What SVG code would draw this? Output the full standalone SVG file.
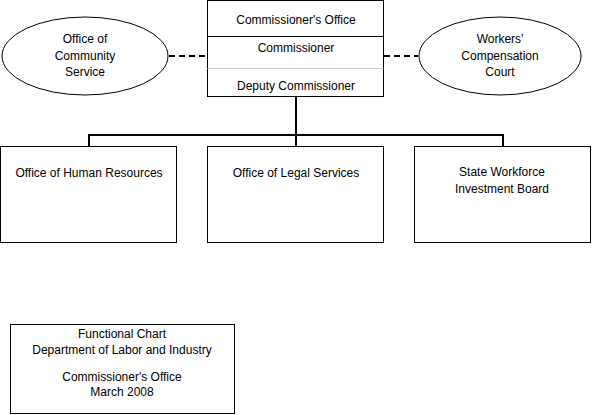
<svg xmlns="http://www.w3.org/2000/svg" width="592" height="415" viewBox="0 0 592 415">
<style>
.b{fill:#fff;stroke:#000;stroke-width:1}
.t{font-family:"Liberation Sans",Arial,sans-serif;font-size:12px;fill:#000;text-anchor:middle}
.c{stroke:#000;stroke-width:2;fill:none}
.d{stroke:#000;stroke-width:2;stroke-dasharray:6,4;fill:none}
</style>
<rect width="592" height="415" fill="#fff"/>
<g id="connectors">
<path class="c" d="M296 97V135M89 135H503M89 134V146M296 134V146M503 134V146"/>
<path class="d" d="M169 56H207M384 56H418"/>
</g>
<g id="commissioner">
<rect class="b" x="207.5" y="0.5" width="176" height="96"/>
<line x1="207.5" y1="36.5" x2="383.5" y2="36.5" stroke="#000"/>
<line x1="207.5" y1="68.5" x2="383.5" y2="68.5" stroke="#ccc"/>
<text class="t" x="296" y="24">Commissioner's Office</text>
<text class="t" x="296" y="52">Commissioner</text>
<text class="t" x="296" y="90">Deputy Commissioner</text>
</g>
<g id="community">
<ellipse class="b" cx="85" cy="56" rx="83" ry="39"/>
<text class="t" x="85" y="43">Office of</text>
<text class="t" x="85" y="60">Community</text>
<text class="t" x="85" y="76">Service</text>
</g>
<g id="court">
<ellipse class="b" cx="500" cy="56" rx="81" ry="39"/>
<text class="t" x="500" y="43">Workers'</text>
<text class="t" x="500" y="60">Compensation</text>
<text class="t" x="500" y="76">Court</text>
</g>
<g id="hr">
<rect class="b" x="0.5" y="146.5" width="176" height="96"/>
<text class="t" x="89" y="177">Office of Human Resources</text>
</g>
<g id="legal">
<rect class="b" x="207.5" y="146.5" width="176" height="96"/>
<text class="t" x="296" y="177">Office of Legal Services</text>
</g>
<g id="workforce">
<rect class="b" x="414.5" y="146.5" width="176" height="96"/>
<text class="t" x="502" y="176">State Workforce</text>
<text class="t" x="502" y="193">Investment Board</text>
</g>
<g id="legend">
<rect class="b" x="10.5" y="324.5" width="224" height="89"/>
<text class="t" x="122" y="338">Functional Chart</text>
<text class="t" x="122" y="354">Department of Labor and Industry</text>
<text class="t" x="122" y="381">Commissioner's Office</text>
<text class="t" x="122" y="396">March 2008</text>
</g>
</svg>
